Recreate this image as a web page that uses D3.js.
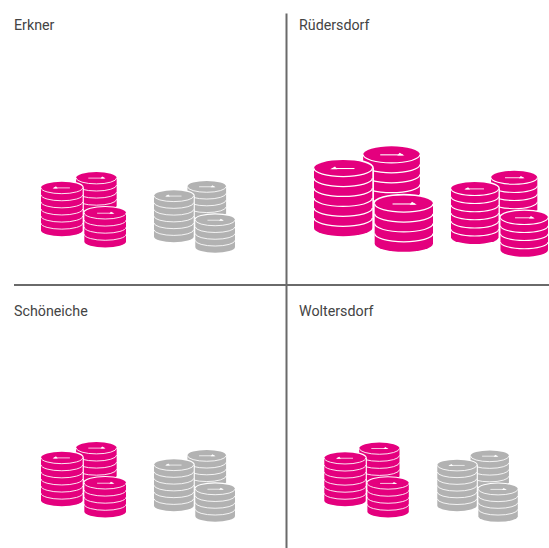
<!DOCTYPE html>
<html><head><meta charset="utf-8">
<script src="https://d3js.org/d3.v7.min.js"></script>
<style>html,body{margin:0;padding:0;background:#fff}svg{display:block}</style>
</head><body><svg id="c" width="549" height="548">
<defs><filter id="soft" x="-5%" y="-5%" width="110%" height="110%"><feGaussianBlur stdDeviation="0.35"/></filter></defs>
</svg>
<script>
// Data (stack-icon size per town, first and second group)
const towns = ["Erkner", "Rüdersdorf", "Schöneiche", "Woltersdorf"];
const firstGroup = [85, 119, 85, 84.5];
const secondGroup = [81, 97, 81, 80.5];
const firstColors = ["pink", "pink", "pink", "pink"];
const secondColors = ["gray", "pink", "gray", "gray"];

const palette = {pink: "#e4007e", gray: "#b2b2b2"};
const W = 549, H = 548;
const svg = d3.select("#c");

const col = d3.scaleOrdinal().domain([0, 1]).range([0, 287]);
const row = d3.scaleOrdinal().domain([0, 1]).range([0, 285]);
const size = d3.scaleLinear().domain([0, 100]).range([0, 100]);

// Bottom-left anchors of each icon relative to its panel
const anchors = [
  {a: [41, 247.3], b: [154, 252.7]},
  {a: [27, 251.7], b: [164, 256.7]},
  {a: [41, 232.3], b: [154, 236.7]},
  {a: [37.3, 232.3], b: [150.3, 236.7]}
];

// Stacks in icon units (icon width = 1), painted back to front
const stacks = [
  {x: 0.413, top: 0, coins: 5, rx: 0.2385, dir: 1},
  {x: 0, top: 0.115, coins: 6, rx: 0.245, dir: -1},
  {x: 0.51, top: 0.413, coins: 4, rx: 0.245, dir: 1}
];
const RY = 0.07, T = 0.0835, ICON_H = 0.886;

function drawIcon(g, w, color) {
  const k = size(w);
  stacks.forEach((s, si) => {
    const cx = (s.x + s.rx) * k, rx = s.rx * k, ry = RY * k;
    const cy = (s.top + RY) * k, t = T * k;
    const bottom = cy + t * s.coins;
    const body = `M${cx - rx},${cy}A${rx},${ry} 0 0 1 ${cx + rx},${cy}L${cx + rx},${bottom}A${rx},${ry} 0 0 1 ${cx - rx},${bottom}Z`;
    if (si > 0) {
      g.append("path").attr("d", body).attr("fill", "#fff")
        .attr("stroke", "#fff").attr("stroke-width", 0.028 * k);
    }
    g.append("path").attr("d", body).attr("fill", color);
    d3.range(s.coins).forEach(i => {
      const y = cy + t * i;
      g.append("path")
        .attr("d", `M${cx - rx},${y}A${rx},${ry} 0 0 0 ${cx + rx},${y}`)
        .attr("fill", "none").attr("stroke", "#fff").attr("stroke-width", 0.0105 * k);
    });
    // arrow glyph on the top coin
    const L = 0.095 * k, d = s.dir, ay = cy + 0.002 * k;
    g.append("path")
      .attr("d", `M${cx - L},${ay}L${cx + L},${ay}`)
      .attr("stroke", "#fff").attr("stroke-width", 0.009 * k).attr("fill", "none");
    const hx = cx + d * L * 0.72;
    g.append("path")
      .attr("d", `M${hx},${ay - 0.018 * k}L${hx + d * 0.04 * k},${ay + 0.006 * k}L${hx - d * 0.02 * k},${ay + 0.006 * k}Z`)
      .attr("fill", "#fff");
  });
}

towns.forEach((town, i) => {
  const c = i % 2, r = Math.floor(i / 2);
  const p = svg.append("g").attr("transform", `translate(${col(c)},${row(r)})`);
  const label = p.append("text").attr("x", c ? 12 : 14).attr("y", r ? 31 : 30)
    .attr("font-family", "Roboto,sans-serif")
    .attr("font-size", 15.5).attr("fill", "#444").text(town);
  const len = label.node().getComputedTextLength();
  label.attr("textLength", len * 0.92).attr("lengthAdjust", "spacingAndGlyphs");
  [[firstGroup[i], firstColors[i], anchors[i].a], [secondGroup[i], secondColors[i], anchors[i].b]]
    .forEach(([v, cName, an]) => {
      const k = size(v);
      const g = p.append("g").attr("filter", "url(#soft)")
        .append("g").attr("transform", `translate(${an[0]},${an[1] - ICON_H * k})`);
      drawIcon(g, v, palette[cName]);
    });
});

svg.append("path").attr("d", d3.line()([[286.5, 13.5], [286.5, H]])).attr("stroke", "#6a6a6a").attr("stroke-width", 2).attr("fill", "none");
svg.append("path").attr("d", d3.line()([[14, 285], [W, 285]])).attr("stroke", "#6a6a6a").attr("stroke-width", 2).attr("fill", "none");
</script></body></html>
